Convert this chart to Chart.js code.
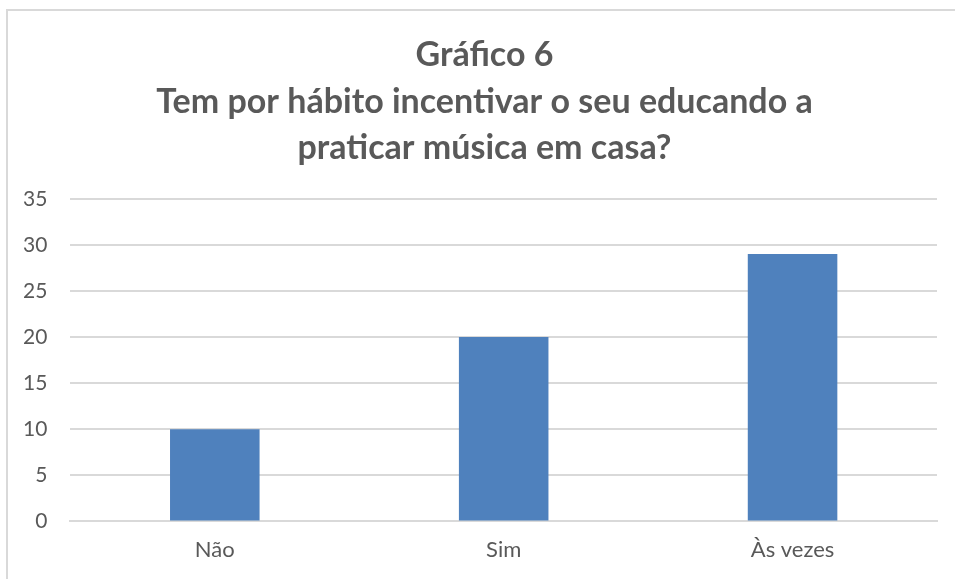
<!DOCTYPE html>
<html>
<head>
<meta charset="utf-8">
<script src="https://cdn.jsdelivr.net/npm/chart.js@4"></script>
<style>
  html, body { margin: 0; padding: 0; background: #fff; overflow: hidden; }
  #wrap { position: relative; width: 955px; height: 579px; }
  #frame { position: absolute; left: 6px; top: 9px; width: 980px; height: 600px; border: 2px solid #d9d9d9; box-sizing: border-box; }
  canvas { position: absolute; left: 0; top: 0; }
</style>
</head>
<body>
<div id="wrap">
  <div id="frame"></div>
  <canvas id="chart" width="955" height="579"></canvas>
</div>
<script>
// Dados do gráfico
const categorias = ['Não', 'Sim', 'Às vezes'];
const respostas = [10, 20, 29];
const titulo = ['Gráfico 6', 'Tem por hábito incentivar o seu educando a', 'praticar música em casa?'];

// O título fica centrado na moldura e não só na área do gráfico
const centrarTitulo = {
    id: 'centrarTitulo',
    afterLayout(chart) {
        const t = chart.titleBlock;
        if (t) {
            t.left += 16;
            t.right += 16;
        }
    }
};

document.addEventListener("DOMContentLoaded", function() {
    const ctx = document.getElementById("chart").getContext("2d");

    new Chart(ctx, {
        type: 'bar',
        data: {
            labels: categorias,
            datasets: [{
                data: respostas,
                backgroundColor: '#4F81BD',
                barPercentage: 0.31,
                categoryPercentage: 1.0
            }]
        },
        plugins: [centrarTitulo],
        options: {
            responsive: false,
            animation: false,
            layout: {
                padding: { left: 0, right: 18, top: 0, bottom: 0 }
            },
            plugins: {
                legend: { display: false },
                tooltip: { enabled: false },
                title: {
                    display: true,
                    text: titulo,
                    color: '#595959',
                    font: { family: 'Lato', size: 34, weight: 'bold', lineHeight: 1.37 },
                    padding: { top: 32, bottom: 27 }
                }
            },
            scales: {
                x: {
                    grid: { display: false, drawTicks: false },
                    border: { color: '#d9d9d9', width: 2 },
                    ticks: {
                        color: '#595959',
                        font: { family: 'Lato', size: 22, lineHeight: 0.8 },
                        padding: 20
                    }
                },
                y: {
                    min: 0,
                    max: 35,
                    border: { display: false },
                    grid: { color: '#d9d9d9', lineWidth: 2, drawTicks: false },
                    ticks: {
                        stepSize: 5,
                        color: '#595959',
                        font: { family: 'Lato', size: 21 },
                        padding: 23
                    }
                }
            }
        }
    });
});
</script>
</body>
</html>
